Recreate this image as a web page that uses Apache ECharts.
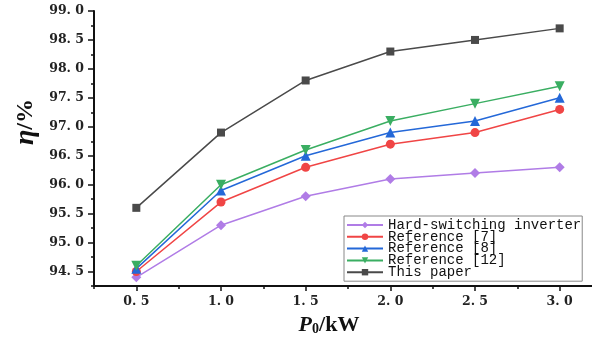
<!DOCTYPE html>
<html><head><meta charset="utf-8">
<script src="https://cdn.jsdelivr.net/npm/echarts@6/dist/echarts.min.js"></script>
<style>html,body{margin:0;padding:0;background:#fff}#c{width:592px;height:341px}</style>
</head><body><div id="c"></div>
<script>
const xValues = [0.5, 1.0, 1.5, 2.0, 2.5, 3.0];
const hardSwitching = [94.4, 95.3, 95.8, 96.1, 96.2, 96.3];
const ref7 = [94.5, 95.7, 96.3, 96.7, 96.9, 97.3];
const ref8 = [94.55, 95.9, 96.5, 96.9, 97.1, 97.5];
const ref12 = [94.6, 96.0, 96.6, 97.1, 97.4, 97.7];
const thisPaper = [95.6, 96.9, 97.8, 98.3, 98.5, 98.7];
const yTicks = [94.5, 95.0, 95.5, 96.0, 96.5, 97.0, 97.5, 98.0, 98.5, 99.0];
const xTicks = [0.5, 1.0, 1.5, 2.0, 2.5, 3.0];
const seriesNames = ['Hard-switching inverter', 'Reference [7]', 'Reference [8]', 'Reference [12]', 'This paper'];

const fmt = v => Number(v).toFixed(1).replace('.', '. ');
const zip = arr => xValues.map((x, i) => [x, arr[i]]);
const lblFont = {fontFamily: 'DejaVu Serif', fontWeight: 'bold', fontSize: 12.5, color: '#222'};

const chart = echarts.init(document.getElementById('c'));
const grid = {left: 94, top: 11, width: 508, height: 275, outerBoundsMode: 'none', containLabel: false};
const mk = (name, data, color, symbol, size, rot) => ({
  name, type: 'line', data: zip(data), xAxisIndex: 0, yAxisIndex: 0,
  symbol, symbolSize: size, symbolRotate: rot || 0,
  lineStyle: {color, width: 1.5}, itemStyle: {color},
  z: 3
});
chart.setOption({
  animation: false,
  grid: grid,
  xAxis: [{
    type: 'value', min: 0.25, max: 3.25, position: 'bottom',
    axisLine: {show: true, lineStyle: {color: '#111', width: 2}},
    axisTick: {show: true, customValues: xTicks, length: 5, inside: false, lineStyle: {color: '#111', width: 1.5}},
    axisLabel: Object.assign({customValues: xTicks, formatter: fmt, margin: 9}, lblFont),
    splitLine: {show: false}
  }, {
    type: 'value', min: 0.25, max: 3.25, interval: 0.25, position: 'bottom',
    axisLine: {show: false}, axisLabel: {show: false}, splitLine: {show: false},
    axisTick: {show: true, length: 3, lineStyle: {color: '#111', width: 1.5}}
  }],
  yAxis: [{
    type: 'value', min: 94.25, max: 99.0, position: 'left',
    axisLine: {show: true, lineStyle: {color: '#111', width: 2}},
    axisTick: {show: true, customValues: yTicks, length: 6, lineStyle: {color: '#111', width: 1.5}},
    axisLabel: Object.assign({customValues: yTicks, formatter: fmt, margin: 10}, lblFont),
    splitLine: {show: false}
  }, {
    type: 'value', min: 94.25, max: 99.0, interval: 0.25, position: 'left',
    axisLine: {show: false}, axisLabel: {show: false}, splitLine: {show: false},
    axisTick: {show: true, length: 3, lineStyle: {color: '#111', width: 1.5}}
  }],
  graphic: [{
    type: 'text', x: 26, y: 122, rotation: Math.PI / 2,
    style: {text: '{e|η}{k|/%}', align: 'center', verticalAlign: 'middle',
      rich: {
        e: {fontFamily: 'Liberation Serif', fontStyle: 'italic', fontWeight: 'bold', fontSize: 28, fill: '#111'},
        k: {fontFamily: 'Liberation Serif', fontWeight: 'bold', fontSize: 24, fill: '#111'}
      }}
  }, {
    type: 'text', x: 329, y: 325,
    style: {text: '{p|P}{s|0}{k|/kW}', align: 'center', verticalAlign: 'middle',
      rich: {
        p: {fontFamily: 'Liberation Serif', fontStyle: 'italic', fontWeight: 'bold', fontSize: 22, fill: '#111'},
        s: {fontFamily: 'Liberation Serif', fontWeight: 'bold', fontSize: 14, fill: '#111', padding: [9, 0, 0, 0]},
        k: {fontFamily: 'Liberation Serif', fontWeight: 'bold', fontSize: 22, fill: '#111'}
      }}
  }],
  legend: {
    orient: 'vertical', left: 344, top: 216,
    padding: [2, 1, 2, 2], itemGap: -2.2, itemWidth: 36, itemHeight: 8,
    backgroundColor: '#fff', borderColor: '#888', borderWidth: 1,
    data: seriesNames,
    textStyle: {fontFamily: 'Liberation Mono', fontSize: 14, color: '#111', lineHeight: 12, padding: [0, 0, 0, 0]}
  },
  series: [
    mk(seriesNames[0], hardSwitching, '#b07ce6', 'diamond', 10),
    mk(seriesNames[1], ref7, '#f04545', 'circle', 9),
    mk(seriesNames[2], ref8, '#2468d8', 'triangle', 10),
    mk(seriesNames[3], ref12, '#3aae62', 'triangle', 10, 180),
    mk(seriesNames[4], thisPaper, '#4a4a4a', 'rect', 8)
  ]
});
</script></body></html>
